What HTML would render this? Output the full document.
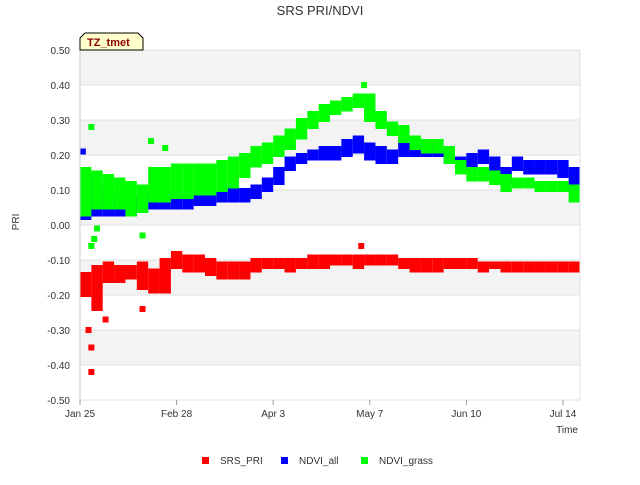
<!DOCTYPE html>
<html><head><meta charset="utf-8"><style>
body{margin:0;background:#fff;font-family:"Liberation Sans","DejaVu Sans",sans-serif}
</style></head><body>
<svg id="chart" width="640" height="480" xmlns="http://www.w3.org/2000/svg" font-family="Liberation Sans, DejaVu Sans, sans-serif">
<text x="320" y="15" text-anchor="middle" font-size="13" fill="#333">SRS PRI/NDVI</text>
<g id="grid"></g>
<g id="plot"></g>
<g id="axes"></g>
<text transform="translate(19,222) rotate(-90)" text-anchor="middle" font-size="10" fill="#333">PRI</text>
<text x="578" y="433" text-anchor="end" font-size="10" fill="#333">Time</text>
<g>
<path d="M80,50 L80,38 L85,33 L138,33 L143,38 L143,50 Z" fill="#ffffcc" stroke="#000" stroke-width="1"/>
<text x="87" y="46" font-size="11" font-weight="bold" fill="#8b0000">TZ_tmet</text>
</g>
<g>
<g><rect x="202" y="457" width="7" height="7" fill="#ff0000"/><text x="220" y="464" font-size="10" fill="#333">SRS_PRI</text></g>
<g><rect x="281" y="457" width="7" height="7" fill="#0000ff"/><text x="299" y="464" font-size="10" fill="#333">NDVI_all</text></g>
<g><rect x="361" y="457" width="7" height="7" fill="#00ff00"/><text x="379" y="464" font-size="10" fill="#333">NDVI_grass</text></g>
</g>
</svg>
<script>
const yTicks=[0.5,0.4,0.3,0.2,0.1,0,-0.1,-0.2,-0.3,-0.4,-0.5];
const yTickLabels=["0.50","0.40","0.30","0.20","0.10","0.00","-0.10","-0.20","-0.30","-0.40","-0.50"];
const xTickDays=[0,34,68,102,136,170];
const xTickLabels=["Jan 25","Feb 28","Apr 3","May 7","Jun 10","Jul 14"];
const binDays=[0,4,8,12,16,20,24,28,32,36,40,44,48,52,56,60,64,68,72,76,80,84,88,92,96,100,104,108,112,116,120,124,128,132,136,140,144,148,152,156,160,164,168,172];
const priLo=[-0.20,-0.24,-0.16,-0.16,-0.15,-0.18,-0.19,-0.19,-0.12,-0.13,-0.13,-0.14,-0.15,-0.15,-0.15,-0.13,-0.12,-0.12,-0.13,-0.12,-0.12,-0.12,-0.11,-0.11,-0.12,-0.11,-0.11,-0.11,-0.12,-0.13,-0.13,-0.13,-0.12,-0.12,-0.12,-0.13,-0.12,-0.13,-0.13,-0.13,-0.13,-0.13,-0.13,-0.13];
const priHi=[-0.14,-0.12,-0.11,-0.12,-0.12,-0.11,-0.13,-0.10,-0.08,-0.09,-0.09,-0.10,-0.11,-0.11,-0.11,-0.10,-0.10,-0.10,-0.10,-0.10,-0.09,-0.09,-0.09,-0.09,-0.09,-0.09,-0.09,-0.09,-0.10,-0.10,-0.10,-0.10,-0.10,-0.10,-0.10,-0.11,-0.11,-0.11,-0.11,-0.11,-0.11,-0.11,-0.11,-0.11];
const allLo=[0.02,0.03,0.03,0.03,0.03,0.04,0.05,0.05,0.05,0.05,0.06,0.06,0.07,0.07,0.07,0.08,0.10,0.12,0.16,0.18,0.19,0.19,0.19,0.20,0.21,0.19,0.18,0.18,0.20,0.20,0.20,0.20,0.18,0.16,0.16,0.18,0.15,0.12,0.16,0.15,0.15,0.15,0.14,0.10];
const allHi=[0.14,0.12,0.08,0.08,0.07,0.08,0.09,0.08,0.08,0.08,0.08,0.09,0.09,0.10,0.10,0.11,0.13,0.16,0.19,0.20,0.21,0.22,0.22,0.24,0.25,0.23,0.22,0.21,0.24,0.23,0.23,0.22,0.21,0.19,0.20,0.21,0.19,0.16,0.19,0.18,0.18,0.18,0.18,0.16];
const grassLo=[0.03,0.05,0.05,0.05,0.03,0.04,0.07,0.07,0.08,0.08,0.09,0.09,0.10,0.11,0.14,0.17,0.18,0.20,0.22,0.25,0.28,0.30,0.32,0.33,0.34,0.30,0.28,0.26,0.24,0.22,0.21,0.21,0.18,0.15,0.13,0.13,0.12,0.10,0.11,0.11,0.10,0.10,0.10,0.07];
const grassHi=[0.16,0.15,0.14,0.13,0.12,0.11,0.16,0.16,0.17,0.17,0.17,0.17,0.18,0.19,0.20,0.22,0.23,0.25,0.27,0.30,0.32,0.34,0.35,0.36,0.37,0.37,0.32,0.29,0.28,0.25,0.24,0.24,0.22,0.18,0.16,0.16,0.15,0.14,0.13,0.13,0.12,0.12,0.12,0.11];
const priOutDays=[4,4,3,9,22,99];
const priOutVals=[-0.42,-0.35,-0.30,-0.27,-0.24,-0.06];
const allOutDays=[1];
const allOutVals=[0.21];
const grassOutDays=[4,4,5,6,22,25,100,30];
const grassOutVals=[0.28,-0.06,-0.04,-0.01,-0.03,0.24,0.40,0.22];

const X0=80,X1=580,Y0=50,Y1=400,DMAX=176;
const xs=d=>X0+d*(X1-X0)/DMAX;
const ys=v=>Y0+(0.5-v)*(Y1-Y0)/1.0;
const NS="http://www.w3.org/2000/svg";
function mk(tag,attrs,parent){const e=document.createElementNS(NS,tag);for(const k in attrs)e.setAttribute(k,attrs[k]);parent.appendChild(e);return e;}
const grid=document.getElementById('grid'),plot=document.getElementById('plot'),axes=document.getElementById('axes');
mk('rect',{x:X0,y:Y0,width:X1-X0,height:Y1-Y0,fill:'#fff'},grid);
for(let i=0;i<yTicks.length-1;i+=2){
  const b=mk('rect',{x:X0,y:ys(yTicks[i]),width:X1-X0,height:ys(yTicks[i+1])-ys(yTicks[i]),fill:'#f3f3f3'},grid);
  
  
}
yTicks.forEach((v,i)=>{
  const l=mk('line',{x1:X0,x2:X1,y1:ys(v),y2:ys(v),stroke:'#e2e2e2','stroke-width':1},grid);
  
  
  const t=mk('text',{x:X0-10,y:ys(v)+4,'text-anchor':'end','font-size':10,fill:'#333'},axes);
  t.textContent=yTickLabels[i];
  
  
});
mk('line',{x1:X0,x2:X0,y1:Y0,y2:Y1,stroke:'#ccc'},axes);
mk('line',{x1:X1,x2:X1,y1:Y0,y2:Y1,stroke:'#e2e2e2'},axes);
xTickDays.forEach((d,i)=>{
  mk('line',{x1:xs(d),x2:xs(d),y1:Y1,y2:Y1+5,stroke:'#999'},axes);
  const t=mk('text',{x:xs(d),y:Y1+17,'text-anchor':'middle','font-size':10,fill:'#333'},axes);
  t.textContent=xTickLabels[i];
  
  
});
function band(lo,hi,col,name){
  binDays.forEach((d,i)=>{
    const x=xs(d),w=xs(d+4)-x;
    const r=mk('rect',{x:x,y:ys(hi[i])-2,width:Math.min(w,X1-x),height:ys(lo[i])-ys(hi[i])+4,fill:col},plot);
    
    
  });
}
function pts(ds,vs,col,name){
  ds.forEach((d,i)=>{
    const r=mk('rect',{x:xs(d)-3,y:ys(vs[i])-3,width:6,height:6,fill:col},plot);
    
    
  });
}
band(priLo,priHi,'#ff0000','srs-pri');pts(priOutDays,priOutVals,'#ff0000','srs-pri');
band(allLo,allHi,'#0000ff','ndvi-all');pts(allOutDays,allOutVals,'#0000ff','ndvi-all');
band(grassLo,grassHi,'#00ff00','ndvi-grass');pts(grassOutDays,grassOutVals,'#00ff00','ndvi-grass');
</script>
</body></html>
